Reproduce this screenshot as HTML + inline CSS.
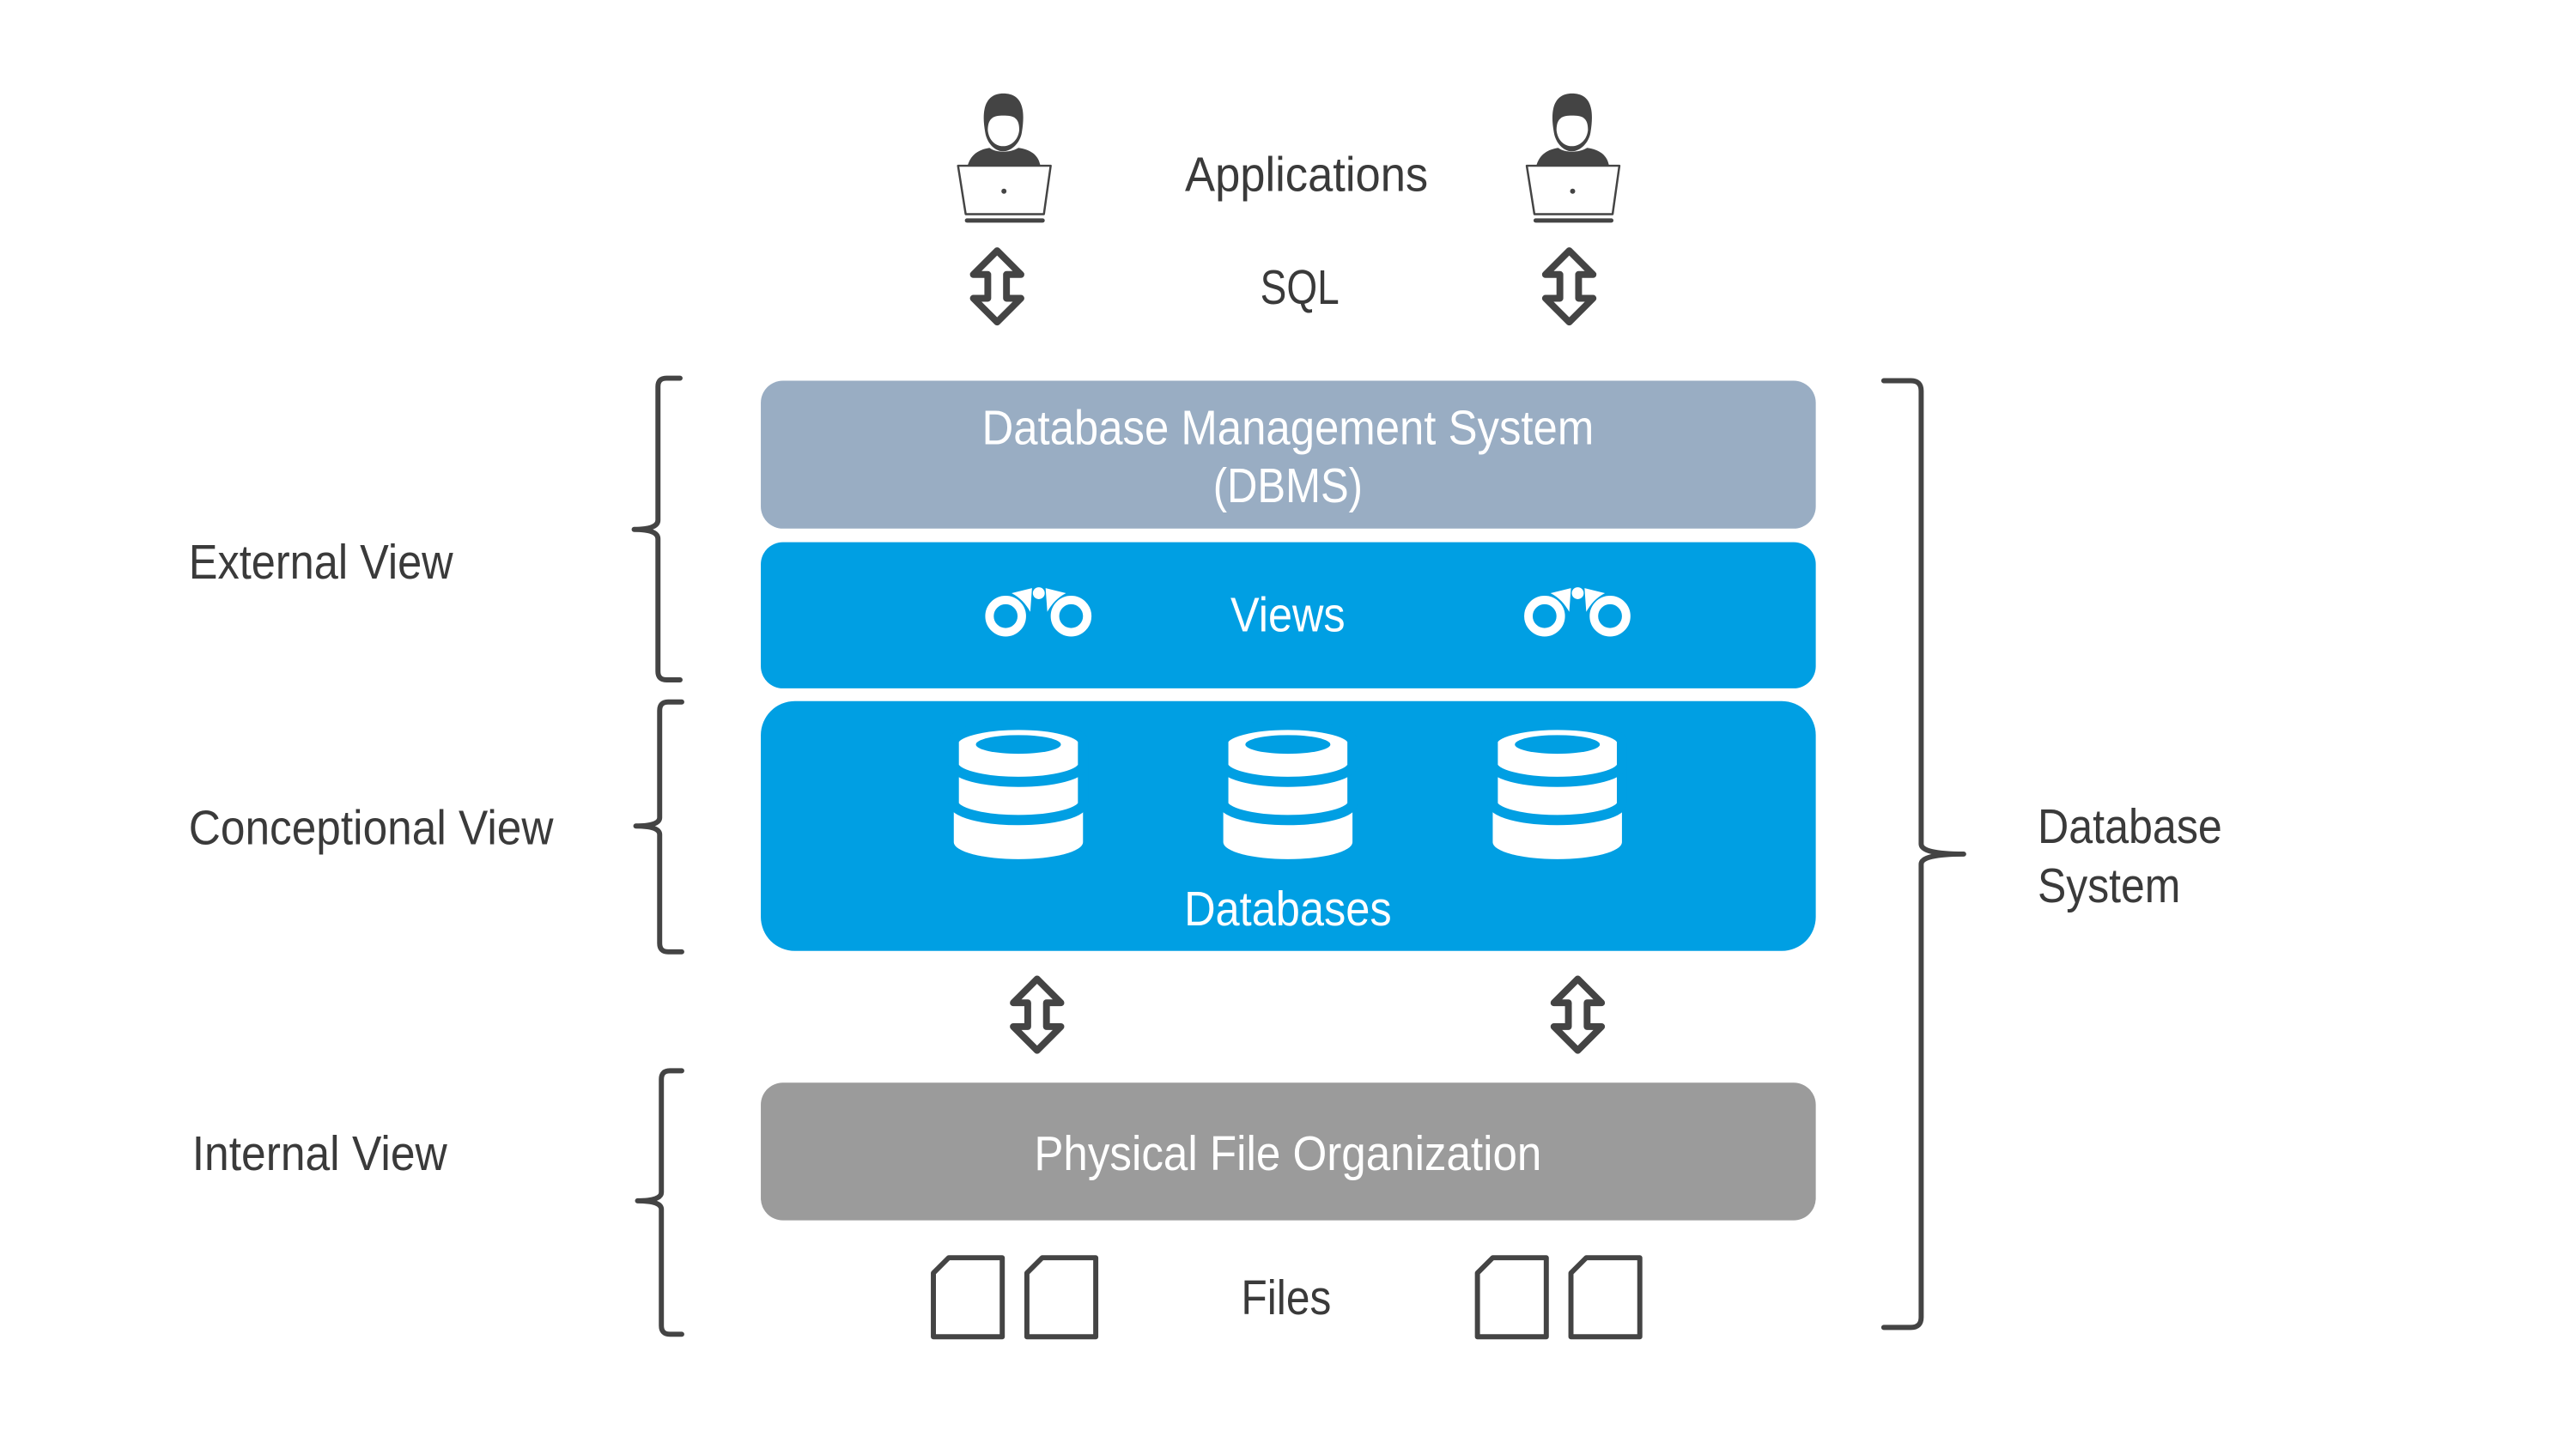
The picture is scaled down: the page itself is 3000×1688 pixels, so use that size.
<!DOCTYPE html>
<html><head><meta charset="utf-8"><style>
html,body{margin:0;padding:0;background:#fff;}
svg{display:block;}
text{font-family:"Liberation Sans Narrow","Liberation Sans",sans-serif;font-size:57px;}
</style></head><body>
<svg width="3000" height="1688" viewBox="0 0 3000 1688" xmlns="http://www.w3.org/2000/svg">
<defs>
<g id="user">
  <path d="M1147,150 C1140,112 1155,104 1168,104 C1185,104 1196,114 1190,150 C1188,162 1178,172 1168,172 C1158,172 1149,162 1147,150 Z" fill="#444"/>
  <path d="M1150,147 C1150,132 1158,130 1168,130 C1180,130 1187,132 1187,147 C1186,158 1178,166 1168,166 C1158,166 1151,158 1150,147 Z" fill="#fff"/>
  <path d="M1126,190 C1130,175 1140,170 1152,168 C1160,174 1176,174 1186,168 C1200,170 1210,176 1212,190 Z" fill="#444"/>
  <path d="M1115,189 L1224,189 L1216,246 L1124,246 Z" fill="#fff" stroke="#444" stroke-width="2.5" stroke-linejoin="round"/>
  <circle cx="1169" cy="219" r="3" fill="#444"/>
  <rect x="1123" y="251" width="94" height="5" rx="2.5" fill="#444"/>
</g>
<path id="arr" d="M0,-42 L28,-14 L11,-14 L11,14 L28,14 L0,42 L-28,14 L-11,14 L-11,-14 L-28,-14 Z" fill="#fff" stroke="#444" stroke-width="8" stroke-linejoin="round"/>
<g id="bino" fill="#fff">
  <circle cx="1171" cy="719" r="19" fill="none" stroke="#fff" stroke-width="10"/>
  <circle cx="1248" cy="719" r="19" fill="none" stroke="#fff" stroke-width="10"/>
  <circle cx="1210" cy="692" r="7"/>
  <path d="M1178,692 L1202,686 L1200,714 C1195,705 1188,697 1178,692 Z"/>
  <path d="M1242,692 L1218,686 L1220,714 C1225,705 1232,697 1242,692 Z"/>
</g>
<g id="db" fill="#fff" stroke="#009fe3" stroke-width="12">
  <path d="M1110,937 L1110,983 A76,20 0 0 0 1262,983 L1262,937 Z" stroke="none"/>
  <path d="M1110,892 L1110,937 A76,20 0 0 0 1262,937 L1262,892 Z"/>
  <path d="M1110,865 L1110,892 A76,20 0 0 0 1262,892 L1262,865 A76,20 0 0 0 1110,865 Z"/>
  <ellipse cx="1186" cy="868" rx="50" ry="11" fill="#009fe3" stroke="none"/>
</g>
<g id="files" fill="#fff" stroke="#444" stroke-width="6" stroke-linejoin="round">
  <path d="M1088,1498 L1106,1480 L1169,1480 L1169,1573 L1088,1573 Z"/>
  <path d="M1198,1498 L1216,1480 L1279,1480 L1279,1573 L1198,1573 Z"/>
</g>
</defs>
<g transform="scale(0.99)">
<use href="#user" transform="translate(12,6)"/>
<use href="#user" transform="translate(681,6)"/>
<text x="1537" y="205" text-anchor="middle" dominant-baseline="central" fill="#3a3a3a" textLength="286" lengthAdjust="spacingAndGlyphs">Applications</text>
<text x="1529" y="338" text-anchor="middle" dominant-baseline="central" fill="#3a3a3a" textLength="93" lengthAdjust="spacingAndGlyphs">SQL</text>
<use href="#arr" transform="translate(1173,337)"/>
<use href="#arr" transform="translate(1846,337)"/>

<rect x="895" y="448" width="1241" height="174" rx="26" fill="#99adc3"/>
<text x="1515" y="503" text-anchor="middle" dominant-baseline="central" fill="#fff" textLength="720" lengthAdjust="spacingAndGlyphs">Database Management System</text>
<text x="1515" y="571" text-anchor="middle" dominant-baseline="central" fill="#fff" textLength="176" lengthAdjust="spacingAndGlyphs">(DBMS)</text>

<rect x="895" y="638" width="1241" height="172" rx="26" fill="#009fe3"/>
<use href="#bino" transform="translate(12,6)"/>
<use href="#bino" transform="translate(646,6)"/>
<text x="1515" y="723" text-anchor="middle" dominant-baseline="central" fill="#fff" textLength="135" lengthAdjust="spacingAndGlyphs">Views</text>

<rect x="895" y="825" width="1241" height="294" rx="40" fill="#009fe3"/>
<use href="#db" transform="translate(12,8)"/>
<use href="#db" transform="translate(329,8)"/>
<use href="#db" transform="translate(646,8)"/>
<text x="1515" y="1069" text-anchor="middle" dominant-baseline="central" fill="#fff" textLength="244" lengthAdjust="spacingAndGlyphs">Databases</text>

<use href="#arr" transform="translate(1220,1194)"/>
<use href="#arr" transform="translate(1856,1194)"/>

<rect x="895" y="1274" width="1241" height="162" rx="26" fill="#9b9b9b"/>
<text x="1515" y="1357" text-anchor="middle" dominant-baseline="central" fill="#fff" textLength="597" lengthAdjust="spacingAndGlyphs">Physical File Organization</text>

<use href="#files" transform="translate(10,0)"/>
<use href="#files" transform="translate(650,0)"/>
<text x="1513" y="1527" text-anchor="middle" dominant-baseline="central" fill="#3a3a3a" textLength="106" lengthAdjust="spacingAndGlyphs">Files</text>

<g fill="none" stroke="#444" stroke-width="6" stroke-linecap="round" stroke-linejoin="round" transform="translate(8,0)">
  <path d="M792,445 L776,445 Q766,445 766,455 L766,612 Q766,623 738,623 Q766,623 766,634 L766,790 Q766,800 776,800 L792,800"/>
  <path d="M794,826 L778,826 Q768,826 768,836 L768,962 Q768,972 740,972 Q768,972 768,982 L768,1110 Q768,1120 778,1120 L794,1120"/>
  <path d="M794,1260 L780,1260 Q770,1260 770,1270 L770,1403 Q770,1413 742,1413 Q770,1413 770,1423 L770,1560 Q770,1570 780,1570 L794,1570"/>
</g>
<path d="M2216,448 L2248,448 Q2260,448 2260,460 L2260,993 Q2260,1005 2310,1005 Q2260,1005 2260,1017 L2260,1550 Q2260,1562 2248,1562 L2216,1562" fill="none" stroke="#444" stroke-width="6" stroke-linecap="round" stroke-linejoin="round"/>

<text x="222" y="661" dominant-baseline="central" fill="#3a3a3a" textLength="311" lengthAdjust="spacingAndGlyphs">External View</text>
<text x="222" y="974" dominant-baseline="central" fill="#3a3a3a" textLength="429" lengthAdjust="spacingAndGlyphs">Conceptional View</text>
<text x="226" y="1357" dominant-baseline="central" fill="#3a3a3a" textLength="300" lengthAdjust="spacingAndGlyphs">Internal View</text>
<text x="2397" y="972" dominant-baseline="central" fill="#3a3a3a" textLength="217" lengthAdjust="spacingAndGlyphs">Database</text>
<text x="2397" y="1042" dominant-baseline="central" fill="#3a3a3a" textLength="168" lengthAdjust="spacingAndGlyphs">System</text>
</g>
</svg>
</body></html>
